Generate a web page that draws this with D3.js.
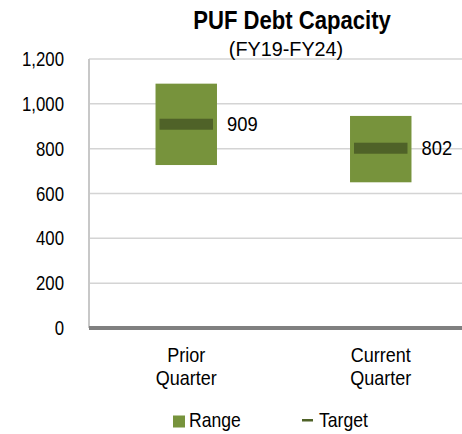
<!DOCTYPE html>
<html><head><meta charset="utf-8">
<script src="https://cdn.jsdelivr.net/npm/d3@7/dist/d3.min.js"></script>
<style>html,body{margin:0;padding:0;background:#fff;overflow:hidden}</style>
</head><body>
<script>
const categories = [["Prior","Quarter"],["Current","Quarter"]];
const rangeLow = [727, 650];
const rangeHigh = [1090, 946];
const targets = [909, 802];
const yTicks = [0, 200, 400, 600, 800, 1000, 1200];
const title = "PUF Debt Capacity";
const subtitle = "(FY19-FY24)";
const legendLabels = ["Range", "Target"];

const W = 462, H = 434;
const svg = d3.select("body").append("svg").attr("width", W).attr("height", H)
  .style("font-family", "'Liberation Sans', Arial, sans-serif");

const pLeft = 89, pRight = 478, pTop = 59, pBottom = 328;
const y = d3.scaleLinear().domain([0, 1200]).range([pBottom, pTop]);
const keys = categories.map(c => c.join(" "));
const x = d3.scalePoint().domain(keys).range([pLeft, pRight]).padding(0.5);
const barW = x.step() * 0.316;

function txt(g, px, py, s, o) {
  const gg = g.append("g").attr("transform", `translate(${px},${py}) scale(${o.sx||1},1)`);
  return gg.append("text").text(s).attr("font-size", o.size || 20)
    .attr("font-weight", o.weight || "normal").attr("text-anchor", o.anchor || "start")
    .attr("dy", o.dy || 0).attr("fill", "#000");
}

// gridlines
svg.append("g").selectAll("line").data(yTicks.filter(d => d > 0)).join("line")
  .attr("x1", pLeft).attr("x2", W).attr("y1", d => y(d)).attr("y2", d => y(d))
  .attr("stroke", "#d4d4d4").attr("stroke-width", 1.5);
// left border
svg.append("line").attr("x1", pLeft).attr("x2", pLeft).attr("y1", pTop).attr("y2", pBottom)
  .attr("stroke", "#c8c8c8").attr("stroke-width", 2);
// y tick labels
yTicks.forEach(t => {
  txt(svg, 64, y(t), d3.format(",")(t), {anchor: "end", sx: 0.84, dy: "0.35em"});
});

// range bars
svg.append("g").selectAll("rect").data(keys).join("rect")
  .attr("x", d => x(d) - barW / 2).attr("width", barW)
  .attr("y", (d, i) => y(rangeHigh[i]))
  .attr("height", (d, i) => y(rangeLow[i]) - y(rangeHigh[i]))
  .attr("fill", "#77933c");
// target bars
svg.append("g").selectAll("rect").data(keys).join("rect")
  .attr("x", d => x(d) - barW / 2 + 4).attr("width", barW - 8)
  .attr("y", (d, i) => y(targets[i]) - 5.5).attr("height", 11)
  .attr("fill", "#4f6228");
// target labels
keys.forEach((k, i) => {
  txt(svg, x(k) + barW / 2 + 10, y(targets[i]), String(targets[i]), {sx: 0.92, dy: "0.35em"});
});

// x axis line
svg.append("line").attr("x1", pLeft).attr("x2", W).attr("y1", pBottom).attr("y2", pBottom)
  .attr("stroke", "#808080").attr("stroke-width", 4);

// category labels
categories.forEach((c, i) => {
  c.forEach((line, j) => {
    txt(svg, x(keys[i]), 362 + j * 23, line, {anchor: "middle", sx: 0.9});
  });
});

// title
txt(svg, 292, 29, title, {anchor: "middle", size: 26, weight: "bold", sx: 0.85});
txt(svg, 286, 56, subtitle, {anchor: "middle", size: 20, sx: 0.99});

// legend
svg.append("rect").attr("x", 173).attr("y", 415.5).attr("width", 12).attr("height", 12).attr("fill", "#77933c");
txt(svg, 189, 427, legendLabels[0], {sx: 0.88});
svg.append("rect").attr("x", 302).attr("y", 419).attr("width", 11).attr("height", 2.5).attr("fill", "#4f6228");
txt(svg, 319, 427, legendLabels[1], {sx: 0.88});
</script>
</body></html>
